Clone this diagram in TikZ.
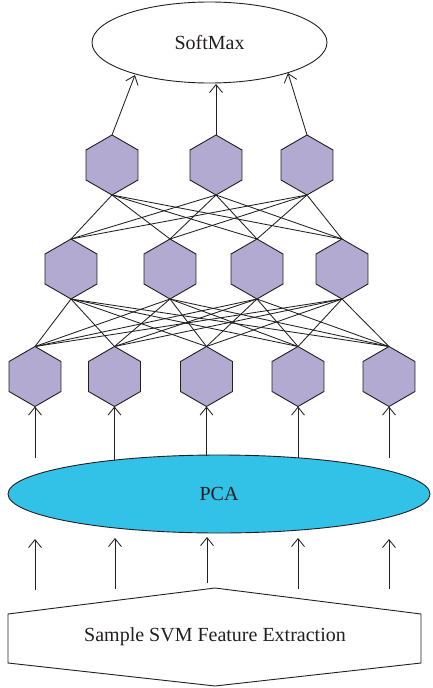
\documentclass[tikz,border=0pt]{standalone}
\usepackage{fontspec}
\setmainfont{Liberation Serif}
\usetikzlibrary{shapes.geometric,arrows.meta,backgrounds}
\definecolor{hexfill}{RGB}{178,170,208}
\definecolor{pcafill}{RGB}{50,194,232}
\definecolor{ink}{RGB}{35,31,32}
\begin{document}
\begin{tikzpicture}[x=1pt,y=-1pt,
  hexnode/.style={regular polygon,regular polygon sides=6,shape border rotate=30,
    minimum size=60pt,inner sep=0pt,outer sep=0pt,fill=hexfill,draw=ink,line width=0.9pt},
  link/.style={draw=ink,line width=0.85pt},
  arr/.style={draw=ink,line width=0.85pt,-{Straight Barb[length=8pt,width=13pt]}},
  lbl/.style={font=\fontsize{20}{24}\selectfont,text=ink}]
\useasboundingbox (0,0) rectangle (432,688);

% SoftMax
\node[ellipse,draw=ink,line width=0.9pt,minimum width=235pt,minimum height=81pt,inner sep=0pt,lbl] (soft) at (209.5,42.5) {SoftMax};

% hexagon layers
\node[hexnode] (c1) at (112,165) {};
\node[hexnode] (c2) at (216,165) {};
\node[hexnode] (c3) at (307,165) {};

\node[hexnode] (b1) at (71,269) {};
\node[hexnode] (b2) at (170,269) {};
\node[hexnode] (b3) at (257,269) {};
\node[hexnode] (b4) at (342,269) {};

\node[hexnode] (a1) at (35,376.5) {};
\node[hexnode] (a2) at (114.5,376.5) {};
\node[hexnode] (a3) at (206.5,376.5) {};
\node[hexnode] (a4) at (298,376.5) {};
\node[hexnode] (a5) at (389,376.5) {};

% full connections, behind the hexagons
\begin{scope}[on background layer]
\foreach \u in {c1,c2,c3}{\foreach \v in {b1,b2,b3,b4}{\draw[link] (\u.south) -- (\v.north);}}
\foreach \u in {b1,b2,b3,b4}{\foreach \v in {a1,a2,a3,a4,a5}{\draw[link] (\u.south) -- (\v.north);}}
\end{scope}

% arrows to SoftMax
\coordinate (s1) at (135,75);
\coordinate (s2) at (216,84);
\coordinate (s3) at (288,73);
\draw[arr] (c1.north) -- (s1);
\draw[arr] (c2.north) -- (s2);
\draw[arr] (c3.north) -- (s3);

% PCA
\node[ellipse,draw=ink,fill=pcafill,line width=0.9pt,minimum width=422pt,minimum height=78pt,inner sep=0pt,lbl] (pca) at (219,494) {PCA};

% arrows PCA -> first layer
\coordinate (p1) at (35,458);
\coordinate (p2) at (114.5,461);
\coordinate (p3) at (206.5,455.5);
\coordinate (p4) at (298,458);
\coordinate (p5) at (389,458);
\draw[arr] (p1) -- (a1.south);
\draw[arr] (p2) -- (a2.south);
\draw[arr] (p3) -- (a3.south);
\draw[arr] (p4) -- (a4.south);
\draw[arr] (p5) -- (a5.south);

% bottom shape
\draw[draw=ink,line width=0.9pt,fill=white] (8,614) -- (215,588) -- (421,614) -- (421,663) -- (215,686) -- (8,663) -- cycle;
\node[lbl] (svm) at (215,637) {Sample SVM Feature Extraction};

% arrows bottom -> PCA
\coordinate (q1) at (35,590);
\coordinate (q2) at (115,589);
\coordinate (q3) at (207,583);
\coordinate (q4) at (298,589);
\coordinate (q5) at (389,589);
\coordinate (r1) at (35,539);
\coordinate (r2) at (115,538);
\coordinate (r3) at (207,537);
\coordinate (r4) at (298,538);
\coordinate (r5) at (389,539);
\foreach \i in {1,...,5}{\draw[arr] (q\i) -- (r\i);}
\end{tikzpicture}
\end{document}
